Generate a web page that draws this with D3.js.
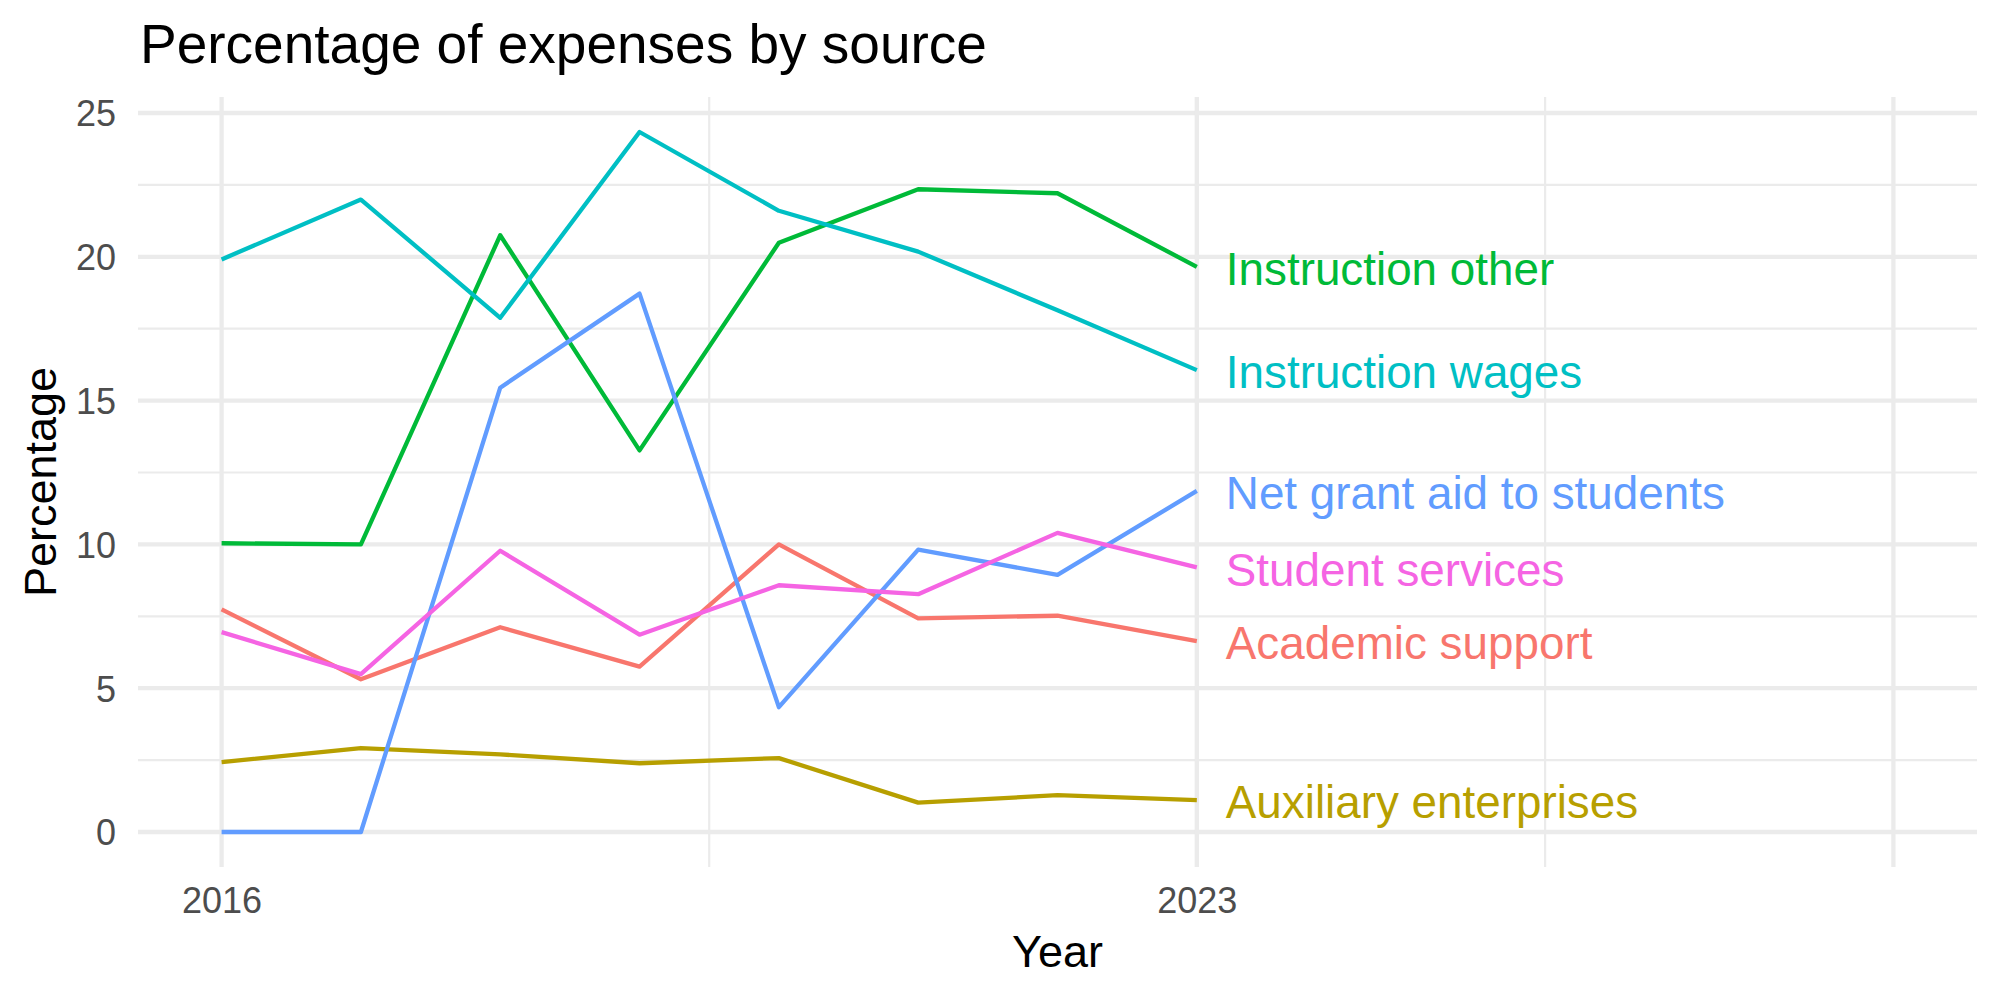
<!DOCTYPE html>
<html>
<head>
<meta charset="utf-8">
<script src="https://cdn.jsdelivr.net/npm/d3@7"></script>
<style>
	body { margin:0; background:#fff; }
	text { font-family:"Liberation Sans", Arial, Helvetica, sans-serif; }
	.tick-label { fill:#4D4D4D; font-size:36px; }
	.axis-title { fill:#000; font-size:45px; }
</style>
</head>
<body>
<div id="viz-container"></div>
<script>
// data
var years = [2016, 2017, 2018, 2019, 2020, 2021, 2022, 2023];

var categories = ["Academic support", "Auxiliary enterprises", "Instruction other",
	"Instruction wages", "Net grant aid to students", "Student services"];

var academicSupport   = [7.74, 5.31, 7.12, 5.75, 10.0, 7.43, 7.52, 6.64];
var auxiliary         = [2.43, 2.92, 2.70, 2.39, 2.57, 1.02, 1.28, 1.11];
var instructionOther  = [10.04, 10.0, 20.75, 13.27, 20.49, 22.35, 22.21, 19.65];
var instructionWages  = [19.91, 21.99, 17.88, 24.34, 21.6, 20.18, 18.14, 16.06];
var netGrantAid       = [0, 0, 15.45, 18.72, 4.34, 9.82, 8.94, 11.86];
var studentServices   = [6.95, 5.49, 9.78, 6.86, 8.58, 8.27, 10.4, 9.2];

var colors = ["#F8766D", "#B79F00", "#00BA38", "#00BFC4", "#619CFF", "#F564E3"];

// axis breaks
var xLimits = [2016, 2028];
var xBreaks = [2016, 2023, 2028];
var xLabels = ["2016", "2023", ""];
var xMinor = [2019.5, 2025.5];
var yBreaks = [0, 5, 10, 15, 20, 25];
var yMinor = [2.5, 7.5, 12.5, 17.5, 22.5];

(function() {
	var width = 2000,
		height = 1000;

	var panel = {left:138, right:1977, top:97, bottom:867};

	var series = [academicSupport, auxiliary, instructionOther, instructionWages, netGrantAid, studentServices];

	var data = categories.map(function(c, i){
		return {
			name: c,
			color: colors[i],
			values: years.map(function(y, j){ return {year:y, value:series[i][j]}; })
		};
	});

	var svg = d3.select('#viz-container')
		.append('svg')
			.attr('width', width)
			.attr('height', height)
			.attr('class', 'svg');

	// ggplot style 5% expansion
	var xPad = (xLimits[1] - xLimits[0]) * 0.05;
	var xScale = d3.scaleLinear()
		.domain([xLimits[0] - xPad, xLimits[1] + xPad])
		.range([panel.left, panel.right]);

	var allValues = d3.merge(series);
	var yMin = d3.min(allValues), yMax = d3.max(allValues);
	var yPad = (yMax - yMin) * 0.05;
	var yScale = d3.scaleLinear()
		.domain([yMin - yPad, yMax + yPad])
		.range([panel.bottom, panel.top]);

	// grid
	var grid = svg.append('g').attr('class', 'grid');

	grid.selectAll('line.yminor')
		.data(yMinor).enter()
		.append('line')
			.attr('x1', panel.left).attr('x2', panel.right)
			.attr('y1', function(d){ return yScale(d); })
			.attr('y2', function(d){ return yScale(d); })
			.attr('stroke', '#EBEBEB').attr('stroke-width', 2.2);

	grid.selectAll('line.xminor')
		.data(xMinor).enter()
		.append('line')
			.attr('y1', panel.top).attr('y2', panel.bottom)
			.attr('x1', function(d){ return xScale(d); })
			.attr('x2', function(d){ return xScale(d); })
			.attr('stroke', '#EBEBEB').attr('stroke-width', 2.2);

	grid.selectAll('line.ymajor')
		.data(yBreaks).enter()
		.append('line')
			.attr('x1', panel.left).attr('x2', panel.right)
			.attr('y1', function(d){ return yScale(d); })
			.attr('y2', function(d){ return yScale(d); })
			.attr('stroke', '#EBEBEB').attr('stroke-width', 4.3);

	grid.selectAll('line.xmajor')
		.data(xBreaks).enter()
		.append('line')
			.attr('y1', panel.top).attr('y2', panel.bottom)
			.attr('x1', function(d){ return xScale(d); })
			.attr('x2', function(d){ return xScale(d); })
			.attr('stroke', '#EBEBEB').attr('stroke-width', 4.3);

	// axes (text only, minimal theme has no axis lines)
	var xAxis = d3.axisBottom(xScale)
		.tickValues(xBreaks)
		.tickFormat(function(d, i){ return xLabels[i]; })
		.tickSize(0)
		.tickPadding(0);

	var yAxis = d3.axisLeft(yScale)
		.tickValues(yBreaks)
		.tickFormat(function(d){ return d + ""; })
		.tickSize(0)
		.tickPadding(0);

	var gx = svg.append('g')
		.attr('class', 'x axis')
		.attr('transform', 'translate(0,' + panel.bottom + ')')
		.call(xAxis);
	gx.select('.domain').remove();
	gx.selectAll('text')
		.attr('class', 'tick-label')
		.attr('y', 46)
		.attr('dy', null)
		.attr('font-family', null)
		.attr('font-size', null)
		.attr('fill', null);

	var gy = svg.append('g')
		.attr('class', 'y axis')
		.attr('transform', 'translate(' + (panel.left - 22) + ',0)')
		.call(yAxis);
	gy.select('.domain').remove();
	gy.selectAll('text')
		.attr('class', 'tick-label')
		.attr('x', 0)
		.attr('dy', '0.36em')
		.attr('font-family', null)
		.attr('font-size', null)
		.attr('fill', null);

	// lines
	var line = d3.line()
		.x(function(d){ return xScale(d.year); })
		.y(function(d){ return yScale(d.value); });

	svg.append('g').attr('class', 'lines')
		.selectAll('path')
		.data(data).enter()
		.append('path')
			.attr('d', function(d){ return line(d.values); })
			.attr('fill', 'none')
			.attr('stroke', function(d){ return d.color; })
			.attr('stroke-width', 4.3)
			.attr('stroke-linejoin', 'round');

	// end labels
	svg.append('g').attr('class', 'labels')
		.selectAll('text')
		.data(data).enter()
		.append('text')
			.attr('x', function(d){ return xScale(d.values[d.values.length - 1].year) + 29; })
			.attr('y', function(d){ return yScale(d.values[d.values.length - 1].value); })
			.attr('dy', '0.4em')
			.attr('fill', function(d){ return d.color; })
			.style('font-size', '45.8px')
			.text(function(d){ return d.name; });

	// titles
	svg.append('text')
		.attr('x', 140)
		.attr('y', 63)
		.style('font-size', '55px')
		.attr('fill', '#000')
		.text('Percentage of expenses by source');

	svg.append('text')
		.attr('class', 'axis-title')
		.attr('x', (panel.left + panel.right) / 2)
		.attr('y', 967)
		.attr('text-anchor', 'middle')
		.text('Year');

	svg.append('text')
		.attr('class', 'axis-title')
		.attr('transform', 'translate(56,' + ((panel.top + panel.bottom) / 2) + ') rotate(-90)')
		.attr('text-anchor', 'middle')
		.text('Percentage');
})();
</script>
</body>
</html>
